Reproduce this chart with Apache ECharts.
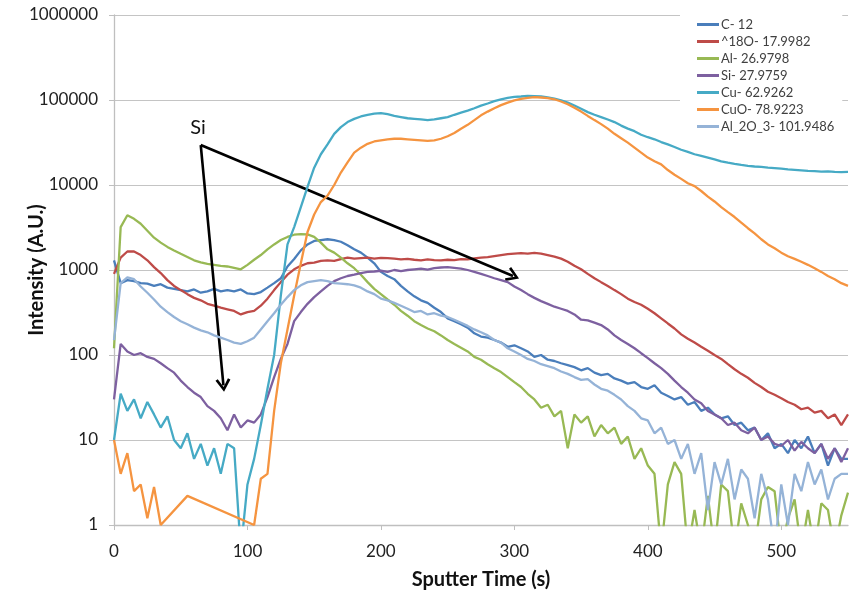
<!DOCTYPE html>
<html>
<head>
<meta charset="utf-8">
<script src="https://cdn.jsdelivr.net/npm/echarts@6/dist/echarts.min.js"></script>
<style>
html,body{margin:0;padding:0;background:#fff;}
#chart{width:852px;height:600px;}
</style>
</head>
<body>
<div id="chart"></div>
<script>
// Sputter time (s)
var time = [0,5,10,15,20,25,30,35,40,45,
50,55,60,65,70,75,80,85,90,95,
100,105,110,115,120,125,130,135,140,145,
150,155,160,165,170,175,180,185,190,195,
200,205,210,215,220,225,230,235,240,245,
250,255,260,265,270,275,280,285,290,295,
300,305,310,315,320,325,330,335,340,345,
350,355,360,365,370,375,380,385,390,395,
400,405,410,415,420,425,430,435,440,445,
450,455,460,465,470,475,480,485,490,495,
500,505,510,515,520,525,530,535,540,545,
550];

var seriesNames = ['C- 12','^18O- 17.9982','Al- 26.9798','Si- 27.9759','Cu- 62.9262','CuO- 78.9223','Al_2O_3- 101.9486'];

var c12 = [1300,700,760,740,700,690,650,680,620,600,
580,560,590,540,560,600,560,580,560,590,
530,520,550,620,700,800,1100,1350,1700,2000,
2200,2250,2300,2250,2150,1950,1750,1600,1400,1200,
950,850,780,650,560,490,440,410,360,320,
270,250,230,210,180,165,160,150,140,125,
130,120,110,95,100,88,85,80,76,72,
66,70,62,58,60,53,50,46,48,42,
40,44,36,33,30,32,26,28,22,24,
20,18,19,15,16,13,14,10,12,8,
9,7,10,8,11,7,9,5,8,6,
6];

var o18 = [900,1400,1650,1650,1500,1300,1080,920,760,650,
580,520,470,440,400,380,360,345,330,300,
320,330,380,460,580,720,880,1020,1120,1200,
1220,1280,1300,1280,1340,1400,1360,1380,1400,1360,
1390,1380,1360,1330,1350,1320,1300,1330,1310,1300,
1320,1310,1340,1330,1370,1400,1420,1460,1500,1540,
1560,1580,1560,1590,1560,1500,1440,1360,1250,1120,
1020,900,800,720,650,580,520,460,420,390,
350,310,270,235,205,175,155,140,125,112,
100,90,78,68,60,54,47,42,37,34,
31,28,26,23,24,21,22,18,20,15,
20];

var al = [120,3200,4400,4000,3500,2900,2400,2100,1870,1700,
1550,1420,1300,1230,1180,1150,1120,1100,1060,1020,
1150,1320,1500,1750,2000,2250,2450,2600,2650,2620,
2450,2100,1750,1600,1400,1200,1050,880,720,600,
520,450,390,330,290,250,225,205,190,170,
150,135,122,110,95,88,78,70,63,55,
48,42,35,30,24,26,19,22,8,20,
16,19,11,15,12,14,9,11,6,8,
5,4,0.5,3,5.5,4,0.5,1.5,0.5,2.2,
0.5,3,2.5,0.5,1.8,1,0.5,2,2.8,2.5,
0.5,1.2,2,0.5,1.5,0.5,1.8,1.5,0.5,1.3,
2.4];

var si = [30,135,110,100,105,95,90,80,70,62,
50,42,36,32,25,22,18,13,20,14,
17,16,20,32,55,90,135,250,320,400,
480,560,650,740,800,850,880,920,950,960,
980,950,1000,970,1000,1020,1040,1010,1050,1070,
1080,1060,1040,1000,950,900,850,800,760,720,
640,580,520,470,430,400,370,350,330,300,
260,255,240,225,200,170,150,135,120,105,
92,80,70,60,50,42,36,30,27,22,
20,18,15,16,13,12,14,10,11,9,
8.5,10,7.5,9.5,8,7,9,6,8,5.5,
8];

var cu = [10,35,22,30,18,28,20,14,19,10,
8,12,6,9,5,8,4,9,8,0.5,
3,6,15,40,100,500,2000,3200,5500,9500,
16000,23000,30000,40000,48000,55000,60000,64000,67000,69000,
70000,68000,65000,63000,61000,60000,59000,58000,59000,61000,
63000,67000,71000,75000,80000,86000,91000,97000,102000,106000,
109000,110000,112000,111000,110000,107000,104000,99000,93000,86000,
79000,72000,67000,63000,59000,55000,50000,46000,43000,39000,
36500,34500,32000,30000,28000,26000,24500,23000,22000,21000,
20000,19000,18300,17700,17200,16800,16500,16300,16000,15800,
15600,15300,15100,14900,14700,14600,14400,14500,14300,14200,
14300];

var cuo = [10,4,7,2.5,3,1.2,2.8,1,null,null,
null,2.2,null,null,null,null,null,null,null,null,
null,1,3.5,4,22,80,200,500,1200,2800,
4500,6300,7500,10000,14000,18500,24000,27500,30500,32500,
33500,34500,35000,35000,34500,34000,33500,33000,33500,35000,
37500,41000,46000,51000,58000,66000,73000,80000,87000,93000,
99000,103000,106000,108000,107000,105000,102000,96000,89000,81000,
73000,65000,58000,52000,46000,40000,35500,31500,27500,24000,
21000,19000,17500,15000,13200,11800,10500,9700,8500,7300,
6400,5500,4800,4200,3600,3100,2700,2300,2000,1800,
1600,1450,1350,1250,1150,1050,950,850,780,700,
650];

var al2o3 = [150,700,820,780,640,540,450,370,320,280,
250,230,210,195,185,170,160,150,140,135,
145,160,200,250,310,390,480,580,660,720,
740,760,740,700,690,680,660,620,560,520,
460,440,410,380,350,320,330,300,310,290,
280,260,240,220,200,185,170,150,140,120,
110,100,90,85,78,74,70,64,60,55,
51,52,45,40,38,34,30,25,22,18,
17,12,14,9,10,6,9,4,7,1.5,
5.5,3,6,2,4.5,3.5,1.2,4,2,0.5,
3,1,4,2.5,5.5,3,4.5,2,3.5,4,
4];

var colors = ['#4A7EBB','#BE4B48','#98B954','#7D60A0','#46AAC5','#F59440','#95B3D7'];
var valueSets = [c12, o18, al, si, cu, cuo, al2o3];

// Annotation positions (data coordinates)
var annoLabel = {text: 'Si', t: 63, v: 48000};
var arrowStart = [65, 29500];
var arrowEnds = [[82, 44], [299, 850]];

var chart = echarts.init(document.getElementById('chart'));
var FONT = 'Lato';

var series = valueSets.map(function (arr, k) {
  return {
    name: seriesNames[k],
    type: 'line',
    data: time.map(function (t, i) { return [t, arr[i]]; }),
    showSymbol: false,
    symbol: 'none',
    connectNulls: k === 5,
    clip: true,
    lineStyle: {width: 2.3, color: colors[k]},
    itemStyle: {color: colors[k]},
    emphasis: {disabled: true},
    z: 2 + k
  };
});

var chevron = 'path://M5,0 L10,9 L8.4,10 L5,3.6 L1.6,10 L0,9 Z';

series.push({
  name: 'annotation',
  type: 'line',
  data: [],
  silent: true,
  z: 20,
  markLine: {
    silent: true,
    symbol: ['none', chevron],
    symbolSize: [15, 13],
    label: {show: false},
    lineStyle: {color: '#000', width: 2.6, type: 'solid'},
    emphasis: {disabled: true},
    data: arrowEnds.map(function (e) {
      return [{coord: arrowStart}, {coord: e}];
    })
  },
  markPoint: {
    silent: true,
    symbol: 'circle',
    symbolSize: 1,
    itemStyle: {color: 'rgba(0,0,0,0)'},
    label: {show: true, position: 'inside', formatter: annoLabel.text, color: '#111', fontSize: 20, fontFamily: FONT},
    data: [{coord: [annoLabel.t, annoLabel.v]}]
  }
});

chart.setOption({
  animation: false,
  backgroundColor: '#fff',
  color: colors,
  grid: {left: 114, right: 4, top: 15, bottom: 75, containLabel: false, outerBoundsMode: 'none'},
  legend: {
    data: seriesNames,
    orient: 'vertical',
    left: 680,
    top: 12,
    backgroundColor: '#fff',
    padding: [6, 8, 6, 17],
    itemGap: 4,
    itemWidth: 22,
    itemHeight: 3,
    icon: 'rect',
    textStyle: {fontFamily: FONT, fontSize: 13, color: '#404040', lineHeight: 13, padding: [0,0,0,-3]},
    selectedMode: false,
    z: 30
  },
  xAxis: {
    type: 'value',
    min: 0,
    max: 550,
    interval: 100,
    name: 'Sputter Time (s)',
    nameLocation: 'middle',
    nameGap: 45,
    nameMoveOverlap: false,
    nameTextStyle: {fontFamily: FONT, fontSize: 20, fontWeight: 'bold', color: '#111'},
    axisLine: {show: true, lineStyle: {color: '#BFBFBF', width: 1.3}},
    axisTick: {show: true, length: 5, lineStyle: {color: '#BFBFBF'}},
    axisLabel: {fontFamily: FONT, fontSize: 17, color: '#222', margin: 18, showMaxLabel: false},
    splitLine: {show: false}
  },
  yAxis: {
    type: 'log',
    logBase: 10,
    min: 1,
    max: 1000000,
    name: 'Intensity (A.U.)',
    nameLocation: 'middle',
    nameGap: 67,
    nameMoveOverlap: false,
    nameTextStyle: {fontFamily: FONT, fontSize: 20, fontWeight: 'bold', color: '#111'},
    axisLine: {show: true, lineStyle: {color: '#BFBFBF', width: 1.3}},
    axisTick: {show: true, length: 5, lineStyle: {color: '#BFBFBF'}},
    axisLabel: {fontFamily: FONT, fontSize: 17, color: '#222', margin: 16,
      formatter: function (v) { return String(Math.round(v)); }},
    splitLine: {show: true, lineStyle: {color: '#C4C4C4', width: 1.2}},
    minorTick: {show: false},
    minorSplitLine: {show: false}
  },
  series: series
});
</script>
</body>
</html>
